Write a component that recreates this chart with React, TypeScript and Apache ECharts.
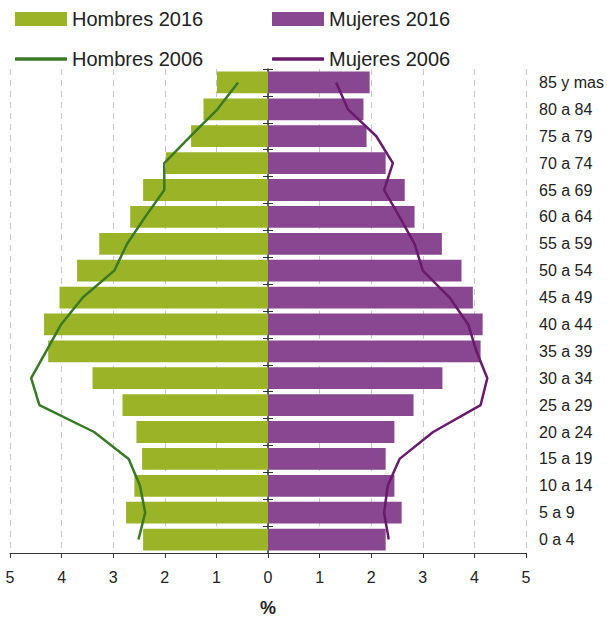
import React, { useEffect, useRef } from "react";
import * as echarts from "echarts";

const categories = [
  "0 a 4", "5 a 9", "10 a 14", "15 a 19", "20 a 24", "25 a 29", "30 a 34", "35 a 39", "40 a 44",
  "45 a 49", "50 a 54", "55 a 59", "60 a 64", "65 a 69", "70 a 74", "75 a 79", "80 a 84", "85 y mas",
];
const hombres2016 = [2.42, 2.75, 2.59, 2.44, 2.55, 2.82, 3.4, 4.26, 4.34, 4.04, 3.7, 3.27, 2.67, 2.42, 1.98, 1.49, 1.25, 0.99];
const mujeres2016 = [2.28, 2.59, 2.45, 2.28, 2.45, 2.82, 3.38, 4.12, 4.16, 3.97, 3.75, 3.37, 2.84, 2.65, 2.28, 1.91, 1.85, 1.97];
const hombres2006 = [2.51, 2.38, 2.48, 2.7, 3.37, 4.43, 4.59, 4.3, 4.01, 3.59, 2.98, 2.73, 2.38, 2.01, 2.01, 1.5, 0.98, 0.58];
const mujeres2006 = [2.34, 2.25, 2.32, 2.55, 3.2, 4.12, 4.25, 4.04, 3.88, 3.52, 3.0, 2.84, 2.55, 2.25, 2.42, 2.1, 1.55, 1.32];
const xTicks = [-5, 5];

const GREEN = "#9BB326";
const PURPLE = "#894691";
const DGREEN = "#3A7A27";
const DPURPLE = "#6A1A6C";
const TXT = "#222222";

export default function App() {
  const ref = useRef<HTMLDivElement>(null);
  useEffect(() => {
    if (!ref.current) return;
    const chart = echarts.init(ref.current, null, { renderer: "svg" });
    const font = "Liberation Sans, Arial, sans-serif";
    const legendBase = {
      itemWidth: 52,
      itemHeight: 14,
      itemGap: 5,
      padding: 0,
      textStyle: { fontSize: 20, color: TXT, fontFamily: font },
      selectedMode: false,
    };
    const lineLegend = {
      ...legendBase,
      itemHeight: 3.5,
    };
    const catAxisBase = {
      type: "category" as const,
      data: categories,
      position: "left" as const,
      axisLabel: { show: false },
      splitLine: { show: false },
    };
    chart.setOption({
      animation: false,
      textStyle: { fontFamily: font },
      legend: [
        { ...legendBase, left: 15, top: 9, data: [{ name: "Hombres 2016", icon: "rect" }] },
        { ...legendBase, left: 272, top: 9, data: [{ name: "Mujeres 2016", icon: "rect" }] },
        { ...lineLegend, left: 15, top: 49, data: [{ name: "Hombres 2006", icon: "roundRect" }] },
        { ...lineLegend, left: 272, top: 49, data: [{ name: "Mujeres 2006", icon: "roundRect" }] },
      ],
      grid: { left: 10, right: 81, top: 69, bottom: 65, outerBoundsMode: "none", containLabel: false },
      xAxis: {
        type: "value",
        min: xTicks[0],
        max: xTicks[1],
        interval: 1,
        axisLine: { show: true, lineStyle: { color: "#333", width: 1.2 } },
        axisTick: { show: true, length: 5, lineStyle: { color: "#333" } },
        axisLabel: {
          formatter: (v: number) => String(Math.abs(v)),
          fontSize: 16,
          color: TXT,
          margin: 16,
        },
        splitLine: { show: true, lineStyle: { color: "#c8c8c8", type: [6, 5], width: 1 } },
        name: "%",
        nameLocation: "middle",
        nameGap: 46,
        nameTextStyle: { fontSize: 18, fontWeight: "bold", color: TXT },
      },
      yAxis: [
        {
          ...catAxisBase,
          axisLine: { show: true, onZero: true, onZeroAxisIndex: 0, lineStyle: { color: "#333", width: 1.5 } },
          axisTick: { show: true, length: 5, lineStyle: { color: "#333" } },
        },
        {
          ...catAxisBase,
          axisLine: { show: false, onZero: true, onZeroAxisIndex: 0 },
          axisTick: { show: true, inside: true, length: 5, lineStyle: { color: "#333" } },
        },
        {
          ...catAxisBase,
          axisLine: { show: false, onZero: true, onZeroAxisIndex: 0 },
          axisTick: { show: true, alignWithLabel: true, length: 4, lineStyle: { color: "#333" } },
        },
        {
          type: "category",
          data: categories,
          position: "right",
          axisLine: { show: false, onZero: false },
          axisTick: { show: false },
          splitLine: { show: false },
          axisLabel: { fontSize: 16, color: TXT, margin: 13, align: "left" },
        },
      ],
      series: [
        {
          name: "Hombres 2016",
          type: "bar",
          stack: "pop",
          yAxisIndex: 0,
          barCategoryGap: "19%",
          itemStyle: { color: GREEN },
          data: hombres2016.map((v) => -v),
        },
        {
          name: "Mujeres 2016",
          type: "bar",
          stack: "pop",
          yAxisIndex: 0,
          barCategoryGap: "19%",
          itemStyle: { color: PURPLE },
          data: mujeres2016,
        },
        {
          name: "Hombres 2006",
          type: "line",
          yAxisIndex: 0,
          symbol: "none",
          lineStyle: { color: DGREEN, width: 2.5 },
          itemStyle: { color: DGREEN },
          data: hombres2006.map((v) => -v),
          z: 5,
        },
        {
          name: "Mujeres 2006",
          type: "line",
          yAxisIndex: 0,
          symbol: "none",
          lineStyle: { color: DPURPLE, width: 2.5 },
          itemStyle: { color: DPURPLE },
          data: mujeres2006,
          z: 5,
        },
      ],
    });
    return () => chart.dispose();
  }, []);
  return (
    <div
      ref={ref}
      style={{ position: "fixed", left: 0, top: 0, width: 607, height: 618, background: "#fff" }}
    />
  );
}
